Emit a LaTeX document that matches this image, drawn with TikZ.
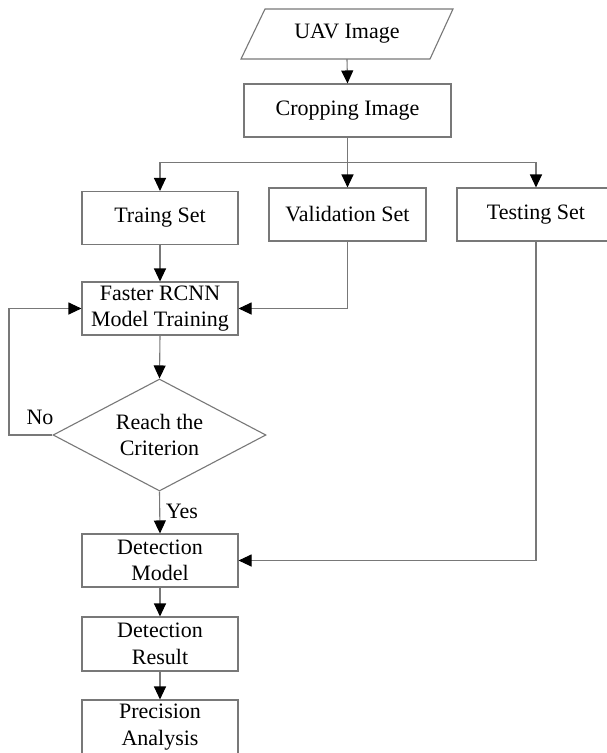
\documentclass[tikz,border=0pt]{standalone}
\usepackage{fontspec}
\setmainfont{Liberation Serif}
\usetikzlibrary{arrows.meta,shapes.geometric}
\definecolor{linegray}{RGB}{120,120,120}
\tikzset{
  boxnode/.style={draw=linegray, line width=1.1pt, rectangle, inner sep=0pt, align=center,
    font=\fontsize{22}{26.5}\selectfont, minimum width=156pt, minimum height=53pt},
  decnode/.style={draw=linegray, line width=1.1pt, diamond, inner sep=0pt, align=center,
    font=\fontsize{22}{26.5}\selectfont, shape aspect=1.9, minimum width=213pt, minimum height=112pt},
  conn/.style={draw=linegray, line width=1.1pt},
  arr/.style={conn, -{Triangle[length=13pt, width=12pt, color=black, fill=black]}},
  lbl/.style={font=\fontsize{22}{26.5}\selectfont, inner sep=0pt}
}
\begin{document}
\begin{tikzpicture}[x=1pt,y=-1pt]
\useasboundingbox (0,0) rectangle (607,753);
\clip (0,0) rectangle (607,753);
\fill[white] (0,0) rectangle (607,753);
% UAV image (parallelogram)
\node[lbl, minimum width=190pt, minimum height=50pt] (uav) at (347,34) {UAV Image};
\draw[conn] (241,59) -- (265,9) -- (453,9) -- (430,59) -- cycle;
\node[boxnode, minimum width=207pt] (crop) at (347.5,110.5) {Cropping Image};
\node[boxnode] (train) at (160,218) {Traing Set};
\node[boxnode, minimum width=157pt] (val) at (347.5,214.5) {Validation Set};
\node[boxnode, minimum width=158pt] (test) at (536,214.5) {Testing Set};
\node[boxnode] (frcnn) at (160,308.5) {Faster RCNN\\Model Training};
\node[decnode] (dec) at (159.5,435) {Reach the\\Criterion};
\node[boxnode] (det) at (160,560.5) {Detection\\Model};
\node[boxnode, minimum height=54pt] (res) at (160,644) {Detection\\Result};
\node[boxnode, minimum height=54pt] (prec) at (160,727) {Precision\\Analysis};
\coordinate (split) at (347.5,162.5);
\coordinate (loop) at (9,435);
% connectors
\draw[arr] (uav.south) -- (crop.north);
\draw[conn] (crop.south) -- (split);
\draw[arr] (split) -- (val.north);
\draw[arr] (split) -| (train.north);
\draw[arr] (split) -| (test.north);
\draw[arr] (train.south) -- (frcnn.north);
\draw[arr] (val.south) |- (frcnn.east);
\draw[arr] (frcnn.south) -- (dec.north);
\draw[arr] (dec.west) -- (loop) |- (frcnn.west);
\draw[arr] (dec.south) -- (det.north);
\draw[arr] (test.south) |- (det.east);
\draw[arr] (det.south) -- (res.north);
\draw[arr] (res.south) -- (prec.north);
% labels
\node[lbl] (no) at (40,417) {No};
\node[lbl] (yes) at (182,511) {Yes};
\end{tikzpicture}
\end{document}
